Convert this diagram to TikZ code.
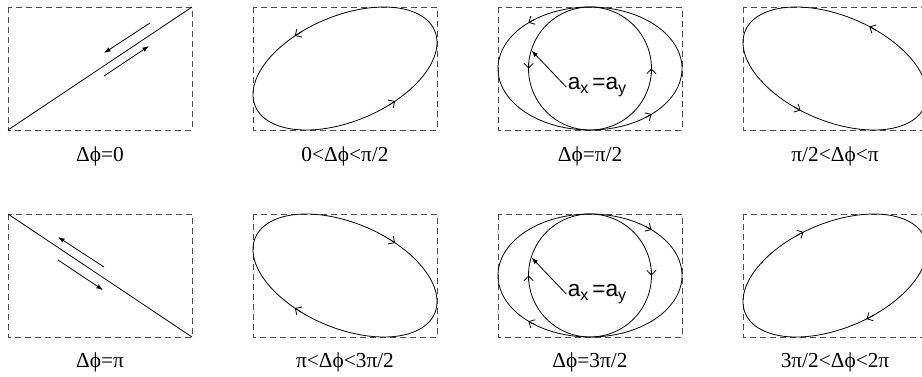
\documentclass[tikz,border=0pt]{standalone}
\usepackage{fontspec}
\setmainfont{Liberation Serif}
\setsansfont{Liberation Sans}
\usetikzlibrary{arrows.meta,positioning}

\begin{document}
\begin{tikzpicture}[x=0.75pt, y=-0.75pt,
  frame/.style={draw=black!70, line width=0.7pt, dash pattern=on 4.5pt off 3pt},
  orbit/.style={line width=0.6pt},
  sense/.style={line width=0.6pt, -{Straight Barb[length=3.5pt,width=7pt]}},
  push/.style={line width=0.6pt, -{Latex[length=5pt,width=3.5pt]}},
  caption/.style={anchor=base, inner sep=0pt, font=\fontsize{16}{19}\selectfont},
  amp/.style={inner sep=1pt, font=\sffamily\fontsize{17}{20}\selectfont}]

  \clip (0,0) rectangle (922,376);

  % dashed frames
  \foreach \col in {0,1,2,3} {
    \foreach \row in {0,1} {
      \draw[frame] ({8+245*\col},{7+207*\row}) rectangle +(184,123);
    }
  }

  % in phase / opposite phase
  \draw[orbit] (8,130) -- (192,7);
  \draw[push] (150,23) -- (104,53);
  \draw[push] (104,76) -- (149,46);
  \draw[orbit] (8,214) -- (192,337);
  \draw[push] (104,267) -- (58,237);
  \draw[push] (58,260) -- (103,290);

  % ellipses x=a cos t, y=b cos(t-d)
  \foreach \cx/\cy/\d/\t in {345/68.5/65/123, 590/68.5/90/132, 835/68.5/115/68,
                             345/275.5/245/303, 590/275.5/270/312, 835/275.5/295/250} {
    \pgfmathsetmacro\ta{\t-5}
    \pgfmathsetmacro\tb{\t+175}
    \pgfmathsetmacro\tc{\t+180}
    \draw[orbit] plot[domain=0:360, samples=181] ({\cx+92*cos(\x)}, {\cy-61.5*cos(\x-\d)});
    \draw[sense] plot[domain=\ta:\t, samples=3] ({\cx+92*cos(\x)}, {\cy-61.5*cos(\x-\d)});
    \draw[sense] plot[domain=\tb:\tc, samples=3] ({\cx+92*cos(\x)}, {\cy-61.5*cos(\x-\d)});
  }

  % circles for equal amplitudes
  \foreach \cx/\cy/\d in {590/68.5/90, 590/275.5/270} {
    \draw[orbit] plot[domain=0:360, samples=181] ({\cx+61.5*cos(\x)}, {\cy-61.5*cos(\x-\d)});
    \draw[sense] plot[domain=175:180, samples=3] ({\cx+61.5*cos(\x)}, {\cy-61.5*cos(\x-\d)});
    \draw[sense] plot[domain=355:360, samples=3] ({\cx+61.5*cos(\x)}, {\cy-61.5*cos(\x-\d)});
  }

  \node[amp] (amp1) at (597,87) {a\raisebox{-0.3ex}{\fontsize{12}{14}\selectfont x}\,=a\raisebox{-0.3ex}{\fontsize{12}{14}\selectfont y}};
  \node[amp] (amp2) at (597,294) {a\raisebox{-0.3ex}{\fontsize{12}{14}\selectfont x}\,=a\raisebox{-0.3ex}{\fontsize{12}{14}\selectfont y}};
  \coordinate (ring1) at (531.5,50.5);
  \coordinate (ring2) at (531.5,257.5);
  \draw[push] (amp1.west) -- (ring1);
  \draw[push] (amp2.west) -- (ring2);

  % captions
  \node[caption] (cap1) at (100,161) {Δϕ=0};
  \node[caption] (cap2) at (345,161) {0<Δϕ<π/2};
  \node[caption] (cap3) at (590,161) {Δϕ=π/2};
  \node[caption] (cap4) at (835,161) {π/2<Δϕ<π};
  \node[caption] (cap5) at (100,367) {Δϕ=π};
  \node[caption] (cap6) at (345,367) {π<Δϕ<3π/2};
  \node[caption] (cap7) at (590,367) {Δϕ=3π/2};
  \node[caption] (cap8) at (835,367) {3π/2<Δϕ<2π};
\end{tikzpicture}
\end{document}
